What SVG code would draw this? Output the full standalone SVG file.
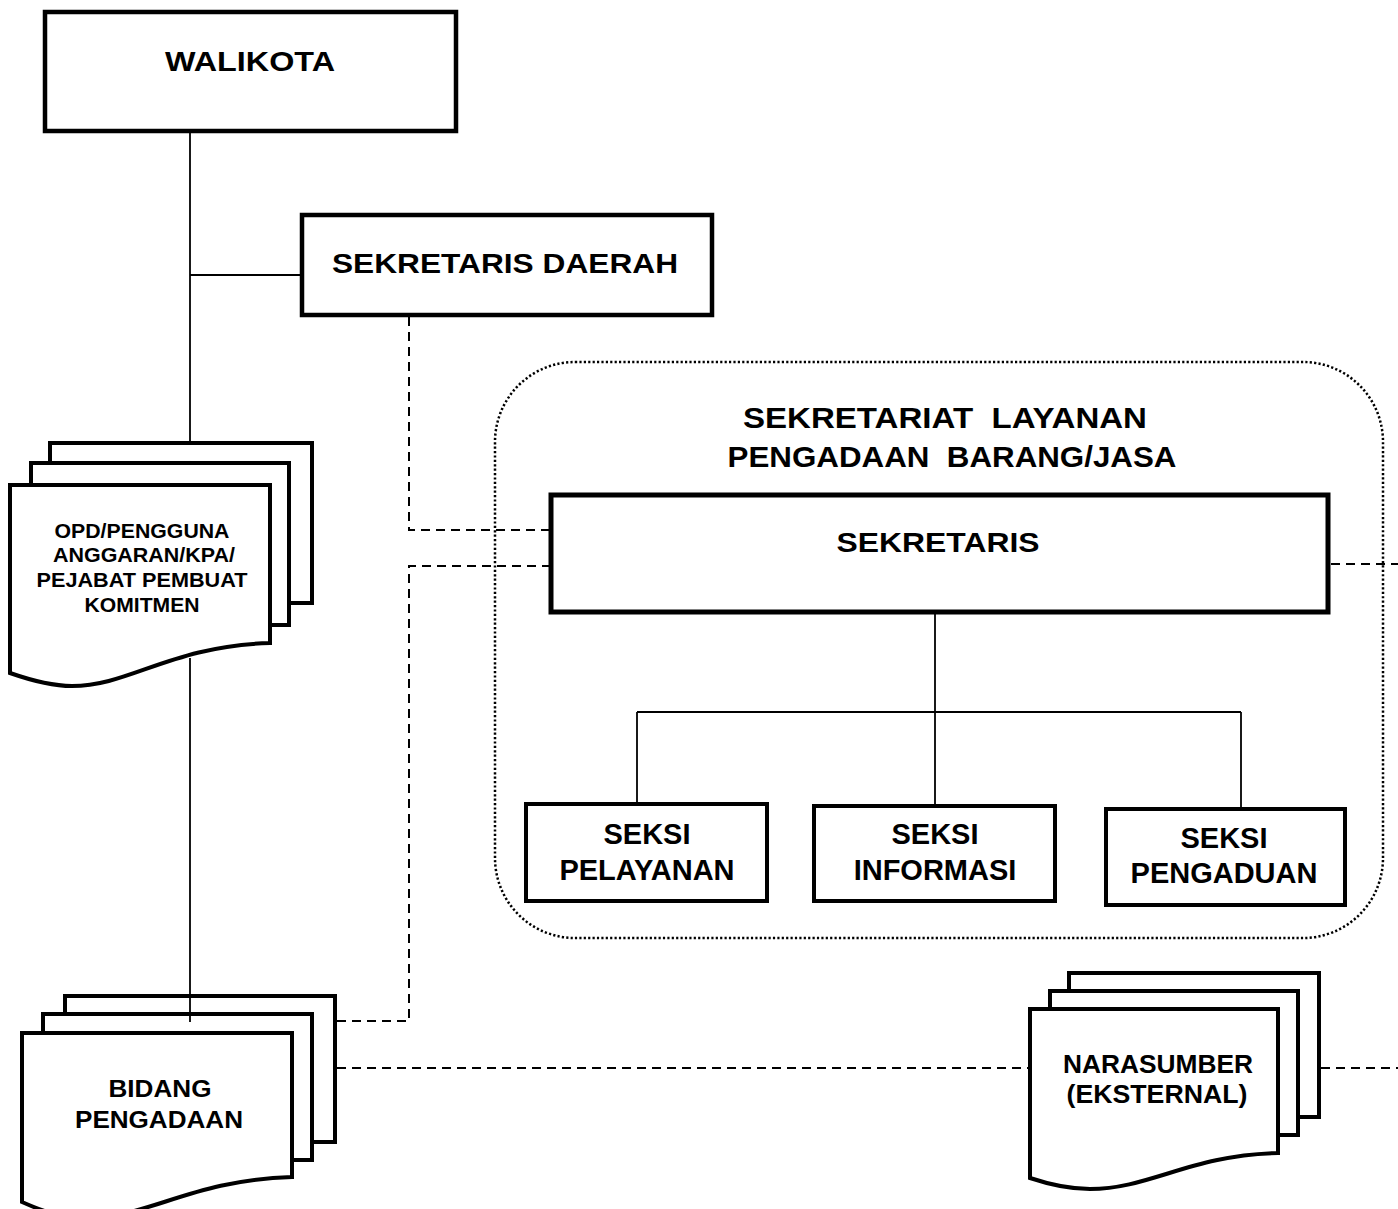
<svg xmlns="http://www.w3.org/2000/svg" width="1398" height="1209" viewBox="0 0 1398 1209">
<style>
  .box{fill:#fff;stroke:#000;stroke-width:4.5}
  .doc{fill:#fff;stroke:#000;stroke-width:4;stroke-linejoin:miter}
  .t{font-family:"Liberation Sans",Arial,sans-serif;font-weight:bold;fill:#000;text-anchor:middle}
  .pre{white-space:pre}
  .solid{fill:none;stroke:#000;stroke-width:1.8}
  .dash{fill:none;stroke:#000;stroke-width:2;stroke-dasharray:9,6}
  .dot{fill:none;stroke:#000;stroke-width:2.5;stroke-dasharray:2.2,2.2}
</style>
<rect width="1398" height="1209" fill="#fff"/>

<g id="sekretariat-group">
  <rect class="dot" x="495" y="362" width="888" height="576" rx="80" ry="80"/>
  <text class="t pre" xml:space="preserve" font-size="30" x="945" y="428" textLength="404" lengthAdjust="spacingAndGlyphs">SEKRETARIAT  LAYANAN</text>
  <text class="t pre" xml:space="preserve" font-size="30" x="952" y="467" textLength="449" lengthAdjust="spacingAndGlyphs">PENGADAAN  BARANG/JASA</text>
</g>

<g id="walikota">
  <rect class="box" x="45" y="12" width="411" height="119"/>
  <text class="t" font-size="28" x="250" y="71" textLength="170" lengthAdjust="spacingAndGlyphs">WALIKOTA</text>
</g>

<g id="sekda">
  <rect class="box" x="302" y="215" width="410" height="100"/>
  <text class="t" font-size="28" x="505" y="273" textLength="346" lengthAdjust="spacingAndGlyphs">SEKRETARIS DAERAH</text>
</g>

<g id="sekretaris">
  <rect class="box" style="stroke-width:5" x="551" y="495" width="777" height="117"/>
  <text class="t" font-size="28" x="938" y="552" textLength="203" lengthAdjust="spacingAndGlyphs">SEKRETARIS</text>
</g>

<g id="seksi-pelayanan">
  <rect class="box" style="stroke-width:4" x="526" y="804" width="241" height="97"/>
  <text class="t" font-size="29" x="647" y="844">SEKSI</text>
  <text class="t" font-size="29" x="647" y="880">PELAYANAN</text>
</g>

<g id="seksi-informasi">
  <rect class="box" style="stroke-width:4" x="814" y="806" width="241" height="95"/>
  <text class="t" font-size="29" x="935" y="844">SEKSI</text>
  <text class="t" font-size="29" x="935" y="880">INFORMASI</text>
</g>

<g id="seksi-pengaduan">
  <rect class="box" style="stroke-width:4" x="1106" y="809" width="239" height="96"/>
  <text class="t" font-size="29" x="1224" y="848">SEKSI</text>
  <text class="t" font-size="29" x="1224" y="883">PENGADUAN</text>
</g>

<g id="opd">
  <rect class="doc" x="50" y="443" width="262" height="160"/>
  <rect class="doc" x="31" y="463" width="258" height="162"/>
  <path class="doc" d="M10,485 H270 V643 C170,646 130,686 72,686 C50,686 30,680 10,673 Z"/>
  <text class="t" font-size="19.5" x="142" y="538" textLength="175" lengthAdjust="spacingAndGlyphs">OPD/PENGGUNA</text>
  <text class="t" font-size="19.5" x="144" y="562" textLength="182" lengthAdjust="spacingAndGlyphs">ANGGARAN/KPA/</text>
  <text class="t" font-size="19.5" x="142" y="587" textLength="211" lengthAdjust="spacingAndGlyphs">PEJABAT PEMBUAT</text>
  <text class="t" font-size="19.5" x="142" y="612" textLength="115" lengthAdjust="spacingAndGlyphs">KOMITMEN</text>
</g>

<g id="bidang-pengadaan">
  <rect class="doc" x="65" y="996" width="270" height="146"/>
  <rect class="doc" x="43" y="1014" width="269" height="146"/>
  <path class="doc" d="M22,1033 H292 V1177 C190,1180 150,1218 85,1218 C60,1218 40,1210 22,1202 Z"/>
  <text class="t" font-size="23" x="160" y="1097" textLength="103" lengthAdjust="spacingAndGlyphs">BIDANG</text>
  <text class="t" font-size="23" x="159" y="1128" textLength="168" lengthAdjust="spacingAndGlyphs">PENGADAAN</text>
</g>

<g id="narasumber">
  <rect class="doc" x="1069" y="973" width="250" height="144"/>
  <rect class="doc" x="1050" y="991" width="248" height="144"/>
  <path class="doc" d="M1030,1009 H1278 V1153 C1190,1155 1150,1189 1090,1189 C1068,1189 1048,1184 1030,1178 Z"/>
  <text class="t" font-size="25" x="1158" y="1073" textLength="190" lengthAdjust="spacingAndGlyphs">NARASUMBER</text>
  <text class="t" font-size="25" x="1157" y="1103" textLength="181" lengthAdjust="spacingAndGlyphs">(EKSTERNAL)</text>
</g>

<g id="connectors">
  <path class="solid" d="M190,133 V443"/>
  <path class="solid" d="M190,275 H300"/>
  <path class="solid" d="M190,658 V1022"/>
  <path class="solid" d="M935,614 V712"/>
  <path class="solid" d="M637,712 H1241"/>
  <path class="solid" d="M637,712 V802"/>
  <path class="solid" d="M935,712 V804"/>
  <path class="solid" d="M1241,712 V807"/>
  <path class="dash" d="M409,317 V530 H553"/>
  <path class="dash" d="M337,1021 H409 V566 H549"/>
  <path class="dash" d="M1331,564 H1398"/>
  <path class="dash" d="M337,1068 H1028"/>
  <path class="dash" d="M1321,1068 H1398"/>
</g>
</svg>
